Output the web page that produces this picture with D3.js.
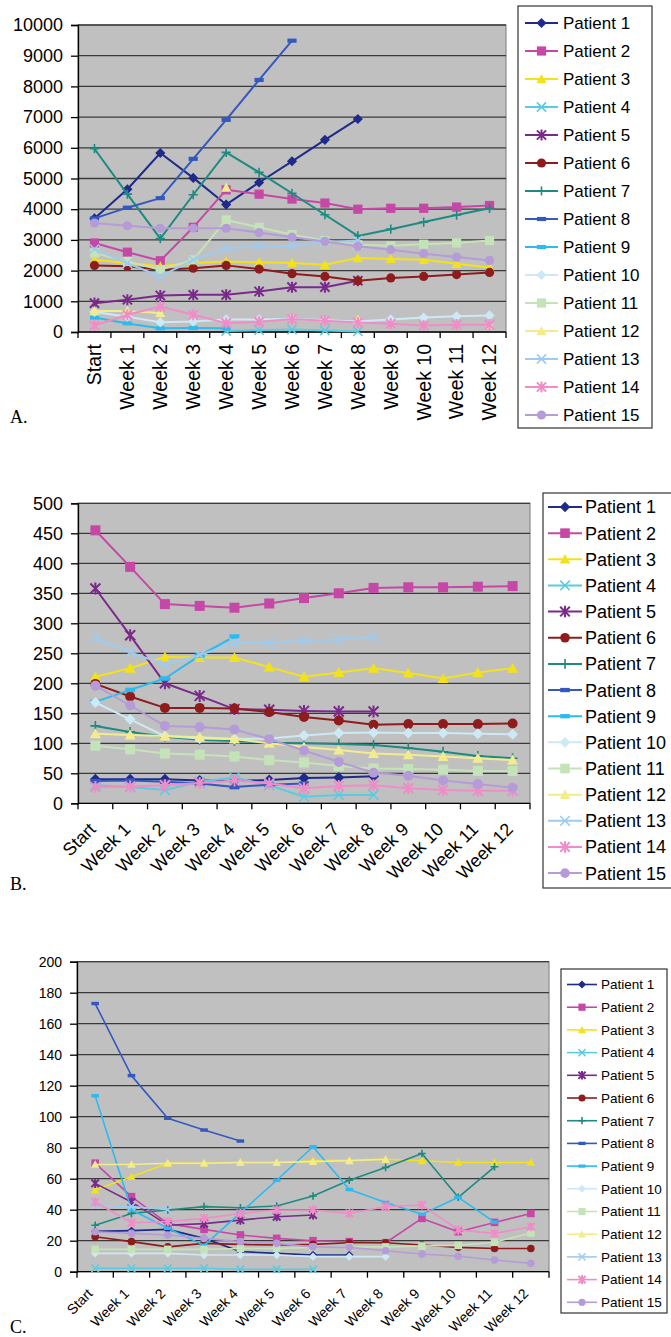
<!DOCTYPE html>
<html><head><meta charset="utf-8">
<script src="https://cdn.jsdelivr.net/npm/d3@7"></script>
<style>body{margin:0;background:#fff} svg{display:block}</style>
</head><body>
<svg id="chart" width="671" height="1337"></svg>
<script>
const categories = ["Start","Week 1","Week 2","Week 3","Week 4","Week 5","Week 6","Week 7","Week 8","Week 9","Week 10","Week 11","Week 12"];
const patients = ["Patient 1","Patient 2","Patient 3","Patient 4","Patient 5","Patient 6","Patient 7","Patient 8","Patient 9","Patient 10","Patient 11","Patient 12","Patient 13","Patient 14","Patient 15"];
const yTicksA = [0,1000,2000,3000,4000,5000,6000,7000,8000,9000,10000];
const yTicksB = [0,50,100,150,200,250,300,350,400,450,500];
const yTicksC = [0,20,40,60,80,100,120,140,160,180,200];
const panelLabels = ["A.","B.","C."];

const valuesA = [
  [3700,4650,5830,5020,4150,4870,5560,6260,6940,null,null,null,null],
  [2900,2600,2320,3410,4630,4490,4330,4200,4000,4030,4030,4070,4120],
  [2350,2250,2140,2250,2300,2270,2250,2190,2410,2380,2350,2220,2100],
  [null,null,null,null,30,60,80,50,20,null,null,null,null],
  [940,1050,1190,1210,1210,1320,1460,1460,1670,null,null,null,null],
  [2170,2140,2030,2080,2170,2050,1900,1810,1670,1760,1810,1870,1940],
  [5970,4490,3040,4470,5850,5200,4520,3820,3130,3350,3580,3810,4030],
  [3700,4050,4360,5640,6910,8210,9490,null,null,null,null,null,null],
  [470,280,120,130,120,null,null,null,null,null,null,null,null],
  [650,500,320,340,410,410,430,380,340,410,470,510,540],
  [2570,2300,2030,2350,3650,3410,3170,2980,2840,2810,2860,2900,2980],
  [680,680,620,null,4700,null,null,null,400,null,null,null,230],
  [2700,2240,1810,2350,2730,2790,2810,2920,2980,null,null,null,null],
  [210,560,830,560,290,330,420,370,310,270,210,240,240],
  [3550,3460,3380,3380,3380,3240,3090,2950,2790,2680,2550,2440,2330]
];
const valuesB = [
  [40,40,40,38,37,39,42,43,45,null,null,null,null],
  [455,394,332,329,326,333,342,350,359,360,360,361,362],
  [211,225,244,243,243,227,211,218,225,217,208,218,225],
  [30,27,22,36,43,30,11,14,14,null,null,null,null],
  [358,280,200,179,157,156,154,153,153,null,null,null,null],
  [199,178,159,159,158,152,144,138,131,132,132,132,133],
  [129,119,111,106,104,101,100,99,97,92,86,79,75],
  [37,38,36,33,27,31,33,null,null,null,null,null,null],
  [169,189,208,246,278,null,null,null,null,null,null,null,null],
  [168,140,112,108,107,108,113,117,118,117,117,116,115],
  [96,90,83,81,78,72,68,62,58,57,56,54,54],
  [116,114,112,110,107,100,94,89,83,81,78,75,72],
  [275,252,231,247,267,268,271,273,277,null,null,null,null],
  [27,28,30,34,38,33,25,29,30,25,22,21,21],
  [196,163,129,127,123,107,88,69,51,46,38,32,26]
];
const valuesC = [
  [26,26.5,27.3,21.5,13,11.8,10.8,10.8,null,null,null,null,null],
  [70,48.4,31,27.3,23.7,21.5,20,19.4,18.7,34.4,25.8,31.8,37.6],
  [52.7,61.3,69.9,70,70.5,70.5,71.6,72,72.5,71.6,70.5,70.5,70.5],
  [2.2,2.2,2.2,2.2,1.5,1.5,1.5,null,null,null,null,null,null],
  [57,45,30,31,33.3,35.5,36.6,null,null,null,null,null,null],
  [22.6,19.4,16,18.3,17.6,17.2,17.6,18.7,18.7,17.2,15.7,15,15],
  [30,37.6,39.8,42,41.3,42.4,48.8,59,67.3,76.3,48,67.7,null],
  [173,126.5,99,91.4,84.3,null,null,null,null,null,null,null,null],
  [113.5,40,28,17,38,59,80.6,53,44.7,37,48,32,null],
  [11.8,11.8,11.8,10.8,10.8,10.8,9.7,9.7,9.7,null,null,null,null],
  [14.4,14.4,14.4,14.4,15,15,15.7,16,16,16.6,17,19,25],
  [69.2,69.2,70,70,70.5,70.5,71,71.6,72.5,null,null,null,null],
  [43,42,40,null,null,null,null,null,null,null,null,null,null],
  [45,31.6,32.3,34.4,37.6,39.8,39.8,37.6,42,43,27,24.7,29],
  [25.8,24.7,23.7,21.5,19.4,18.3,16,15.7,13.5,11.4,10,7.5,5.4]
];

const colors = ["#1f2a8a","#c648a6","#f2e21c","#5ccbe0","#7a2a8a","#8e1c1c","#1e8a80","#3558c0","#2cbaf0","#cde9f5","#c5e3b8","#f3ec8e","#9ecbf0","#f08cc8","#b59bd8"];
const shapes = ["diamond","square","triangle","x","star","circle","plus","dash","dash","diamond","square","triangle","x","star","circle"];

const svg = d3.select("#chart");
const SANS = "'Liberation Sans', Arial, sans-serif";

function marker(g, shape, color, x, y, s) {
  switch (shape) {
    case "diamond":
      g.append("path").attr("d", `M${x},${y-s*1.1}L${x+s*1.1},${y}L${x},${y+s*1.1}L${x-s*1.1},${y}Z`).attr("fill", color); break;
    case "square":
      g.append("rect").attr("x", x-s).attr("y", y-s).attr("width", 2*s).attr("height", 2*s).attr("fill", color); break;
    case "triangle":
      g.append("path").attr("d", `M${x},${y-s*1.1}L${x+s*1.1},${y+s*0.9}L${x-s*1.1},${y+s*0.9}Z`).attr("fill", color); break;
    case "circle":
      g.append("circle").attr("cx", x).attr("cy", y).attr("r", s).attr("fill", color); break;
    case "x":
      g.append("path").attr("d", `M${x-s},${y-s}L${x+s},${y+s}M${x-s},${y+s}L${x+s},${y-s}`).attr("stroke", color).attr("stroke-width", 1.6).attr("fill", "none"); break;
    case "star":
      g.append("path").attr("d", `M${x-s},${y-s}L${x+s},${y+s}M${x-s},${y+s}L${x+s},${y-s}M${x},${y-s*1.2}L${x},${y+s*1.2}`).attr("stroke", color).attr("stroke-width", 2).attr("fill", "none"); break;
    case "plus":
      g.append("path").attr("d", `M${x},${y-s}L${x},${y+s}M${x-s},${y}L${x+s},${y}`).attr("stroke", color).attr("stroke-width", 1.6).attr("fill", "none"); break;
    case "dash":
      g.append("rect").attr("x", x-s).attr("y", y-s*0.45).attr("width", 2*s).attr("height", s*0.9).attr("fill", color); break;
  }
}

const panels = [
  {values: valuesA, ticks: yTicksA, left: 78, right: 506, top: 25, bottom: 332, yFont: 18, xFont: 19.5, rot: -90,
   xLabelY: 344, xLabelDx: 0, ms: 4.6, lw: 2,
   label: {x: 10, y: 423, size: 18},
   legend: {x0: 518, y0: 6, x1: 652, y1: 428, first: 23, step: 28, lx1: 525, lx2: 558, tx: 563, font: 17, ms: 4.6}},
  {values: valuesB, ticks: yTicksB, left: 78, right: 530, top: 503.3, bottom: 803.3, yFont: 18, xFont: 18, rot: -45,
   xLabelY: 826, xLabelDx: -3, ms: 5, lw: 2,
   label: {x: 10, y: 890, size: 18},
   legend: {x0: 543, y0: 493, x1: 674, y1: 888, first: 507, step: 26.15, lx1: 548, lx2: 582, tx: 585, font: 18, ms: 4.8}},
  {values: valuesC, ticks: yTicksC, left: 77, right: 549, top: 961.7, bottom: 1271.7, yFont: 14, xFont: 14, rot: -45,
   xLabelY: 1291, xLabelDx: -5, ms: 3.8, lw: 1.6,
   label: {x: 10, y: 1333, size: 18},
   legend: {x0: 561, y0: 969, x1: 667, y1: 1313, first: 984.5, step: 22.7, lx1: 567, lx2: 597, tx: 601, font: 13.5, ms: 3.6}}
];

panels.forEach((p, pi) => {
  const g = svg.append("g");
  const x = d3.scaleBand().domain(categories).range([p.left, p.right]).padding(0);
  const y = d3.scaleLinear().domain([0, d3.max(p.ticks)]).range([p.bottom, p.top]);
  const cx = c => x(c) + x.bandwidth() / 2;

  g.append("rect").attr("x", p.left).attr("y", p.top).attr("width", p.right - p.left).attr("height", p.bottom - p.top)
    .attr("fill", "#c0c0c0").attr("stroke", "#8a8a8a").attr("stroke-width", 1.2);
  g.append("g").selectAll("line").data(p.ticks.filter(t => t > 0)).join("line")
    .attr("x1", p.left).attr("x2", p.right).attr("y1", d => y(d)).attr("y2", d => y(d))
    .attr("stroke", "#3a3a3a").attr("stroke-width", 1.3);

  const ya = g.append("g").attr("transform", `translate(${p.left},0)`)
    .call(d3.axisLeft(y).tickValues(p.ticks).tickSize(7).tickPadding(8).tickFormat(d3.format("d")));
  ya.select(".domain").attr("stroke", "#000").attr("stroke-width", 1.3);
  ya.selectAll(".tick line").attr("stroke", "#000").attr("stroke-width", 1.3);
  ya.selectAll("text").attr("font-family", SANS).attr("font-size", p.yFont).attr("fill", "#000");

  g.append("line").attr("x1", p.left).attr("x2", p.right).attr("y1", p.bottom).attr("y2", p.bottom)
    .attr("stroke", "#000").attr("stroke-width", 1.3);
  const bounds = categories.map(c => x(c)).concat([p.right]);
  g.append("g").selectAll("line").data(bounds).join("line")
    .attr("x1", d => d).attr("x2", d => d).attr("y1", p.bottom).attr("y2", p.bottom + 6)
    .attr("stroke", "#000").attr("stroke-width", 1.3);
  g.append("g").selectAll("text").data(categories).join("text")
    .attr("transform", d => `translate(${cx(d) + p.xLabelDx},${p.xLabelY}) rotate(${p.rot})`)
    .attr("text-anchor", "end").attr("dy", "0.35em")
    .attr("font-family", SANS).attr("font-size", p.xFont).attr("fill", "#000")
    .text(d => d);

  const line = d3.line().defined(d => d.v != null).x(d => cx(d.c)).y(d => y(d.v));
  p.values.forEach((vals, si) => {
    const pts = vals.map((v, i) => ({c: categories[i], v}));
    const sg = g.append("g");
    sg.append("path").attr("d", line(pts)).attr("fill", "none").attr("stroke", colors[si])
      .attr("stroke-width", p.lw).attr("stroke-linejoin", "round");
    pts.filter(d => d.v != null).forEach(d => marker(sg, shapes[si], colors[si], cx(d.c), y(d.v), p.ms));
  });

  const L = p.legend;
  const lg = g.append("g");
  lg.append("rect").attr("x", L.x0).attr("y", L.y0).attr("width", L.x1 - L.x0).attr("height", L.y1 - L.y0)
    .attr("fill", "#fff").attr("stroke", "#333").attr("stroke-width", 1.2);
  patients.forEach((name, i) => {
    const yy = L.first + i * L.step;
    lg.append("line").attr("x1", L.lx1).attr("x2", L.lx2).attr("y1", yy).attr("y2", yy)
      .attr("stroke", colors[i]).attr("stroke-width", p.lw);
    marker(lg, shapes[i], colors[i], (L.lx1 + L.lx2) / 2, yy, L.ms);
    lg.append("text").attr("x", L.tx).attr("y", yy).attr("dy", "0.36em")
      .attr("font-family", SANS).attr("font-size", L.font).attr("fill", "#000").text(name);
  });

  g.append("text").attr("x", p.label.x).attr("y", p.label.y)
    .attr("font-family", "'Liberation Serif', 'Times New Roman', serif").attr("font-size", p.label.size)
    .attr("fill", "#000").text(panelLabels[pi]);
});
</script>
</body></html>
